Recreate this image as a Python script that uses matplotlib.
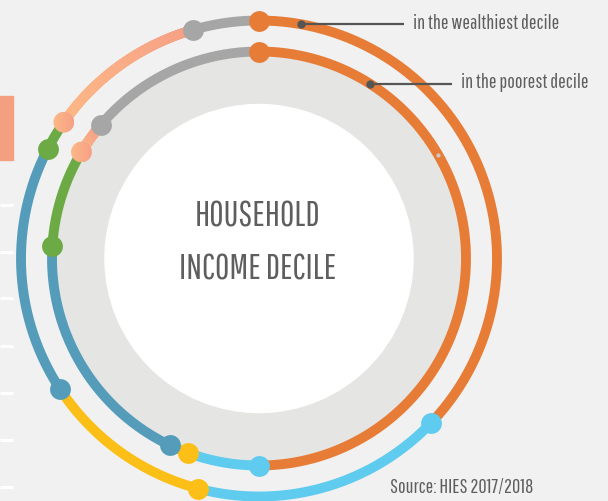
import numpy as np
import matplotlib
matplotlib.use("Agg")
import matplotlib.pyplot as plt
from matplotlib.patches import Circle, Rectangle
from matplotlib.collections import LineCollection
from matplotlib.colors import to_rgb

# ---------------- data ----------------
ring_labels = ["in the wealthiest decile", "in the poorest decile"]
segment_colors = ["#E77C36", "#5FCBEF", "#FCBF17", "#549CBA", "#6BAA45", "salmon_gradient", "#A6A6A6"]
wealthiest_shares = [37.1, 17.0, 11.7, 16.8, 2.1, 10.8, 4.5]
poorest_shares = [50.0, 5.6, 1.5, 18.9, 7.6, 2.6, 13.8]
title_lines = ["HOUSEHOLD", "INCOME DECILE"]
source_text = "Source: HIES 2017/2018"

# ---------------- style ----------------
BG = "#F1F1F1"
DISK = "#E5E5E3"
TXT = "#5E5E5E"
PEACH = np.array(to_rgb("#FDB886"))
SALMON = np.array(to_rgb("#F6A086"))
FONT = ["Pathway Gothic One", "DejaVu Sans"]

fig = plt.figure(figsize=(6.08, 5.01), dpi=100, facecolor=BG)
ax = fig.add_axes([0, 0, 1, 1])
ax.set_xlim(0, 608)
ax.set_ylim(501, 0)
ax.set_facecolor(BG)
ax.axis("off")

cx, cy = 259, 258.5
R_outer, R_inner = 238, 207
LW = 7.1
MS = 15


def pt(theta_deg, r):
    t = np.radians(theta_deg)
    return cx + r * np.sin(t), cy - r * np.cos(t)


# left decorative strip
ax.add_patch(Rectangle((0, 96), 13, 64, color="#F4A080", zorder=1))
for yy in [205, 252, 298, 346, 393, 440, 487]:
    ax.plot([0, 13], [yy, yy], color="white", lw=2.2, zorder=1, solid_capstyle="butt")

# background disks
ax.add_patch(Circle((cx, cy), R_inner, color=DISK, zorder=1))
ax.add_patch(Circle((cx, cy), 154, color="white", zorder=2))


def gradient_dot(x, y, r, z):
    grad = np.linspace(0, 1, 64)[None, :, None]
    img = PEACH[None, None, :] * (1 - grad) + SALMON[None, None, :] * grad
    img = np.repeat(img, 2, axis=0)
    im = ax.imshow(img, extent=(x - r, x + r, y + r, y - r), zorder=z, interpolation="bilinear")
    c = Circle((x, y), r, transform=ax.transData, facecolor="none", edgecolor="none")
    ax.add_patch(c)
    im.set_clip_path(c)


def draw_ring(shares, r):
    bounds = np.concatenate([[0], np.cumsum(shares)]) / np.sum(shares) * 360
    for i, col in enumerate(segment_colors):
        a0, a1 = bounds[i], bounds[i + 1]
        th = np.linspace(a0, a1, 200)
        xs, ys = pt(th, r)
        if col == "salmon_gradient":
            pts = np.column_stack([xs, ys]).reshape(-1, 1, 2)
            segs = np.concatenate([pts[:-1], pts[1:]], axis=1)
            xm = (xs[:-1] + xs[1:]) / 2
            f = (xm - xs.min()) / max(xs.max() - xs.min(), 1e-6)
            cols = PEACH[None, :] * (1 - f[:, None]) + SALMON[None, :] * f[:, None]
            lc = LineCollection(segs, colors=cols, linewidths=LW, capstyle="round", zorder=3)
            ax.add_collection(lc)
        else:
            ax.plot(xs, ys, color=col, lw=LW, solid_capstyle="round", zorder=3)
    # dots at the start of each segment
    for i, col in enumerate(segment_colors):
        x, y = pt(bounds[i], r)
        if col == "salmon_gradient":
            gradient_dot(x, y, 10.4, 5)
        else:
            ax.plot([x], [y], "o", color=col, ms=MS, mew=0, zorder=5)


draw_ring(wealthiest_shares, R_outer)
draw_ring(poorest_shares, R_inner)

# small highlight dot on inner ring
hx, hy = pt(60, R_inner)
ax.plot([hx], [hy], "o", color="#C9C9C9", ms=3, mew=0, zorder=6)

# leader lines and labels
for label, ang, r, x_end in [(ring_labels[0], 10.2, R_outer, 404), (ring_labels[1], 32.4, R_inner, 452)]:
    x0, y0 = pt(ang, r)
    ax.plot([x0, x_end], [y0, y0], color="#555555", lw=1.6, zorder=6, solid_capstyle="butt")
    ax.plot([x0], [y0], "o", color="#555555", ms=6, mew=0, zorder=7)
    ax.text(x_end + 9, y0 - 1, label, fontsize=14.5, color=TXT, family=FONT, ha="left", va="center", zorder=7)

# title in the center
ax.text(cx - 1, 216, title_lines[0], fontsize=25, color=TXT, family=FONT, ha="center", va="center", zorder=7)
ax.text(cx - 1, 269, title_lines[1], fontsize=25, color=TXT, family=FONT, ha="center", va="center", zorder=7)

# source
ax.text(533, 487, source_text, fontsize=14.5, color=TXT, family=FONT, ha="right", va="center", zorder=7)

fig.savefig("out.png", dpi=100, facecolor=BG)
